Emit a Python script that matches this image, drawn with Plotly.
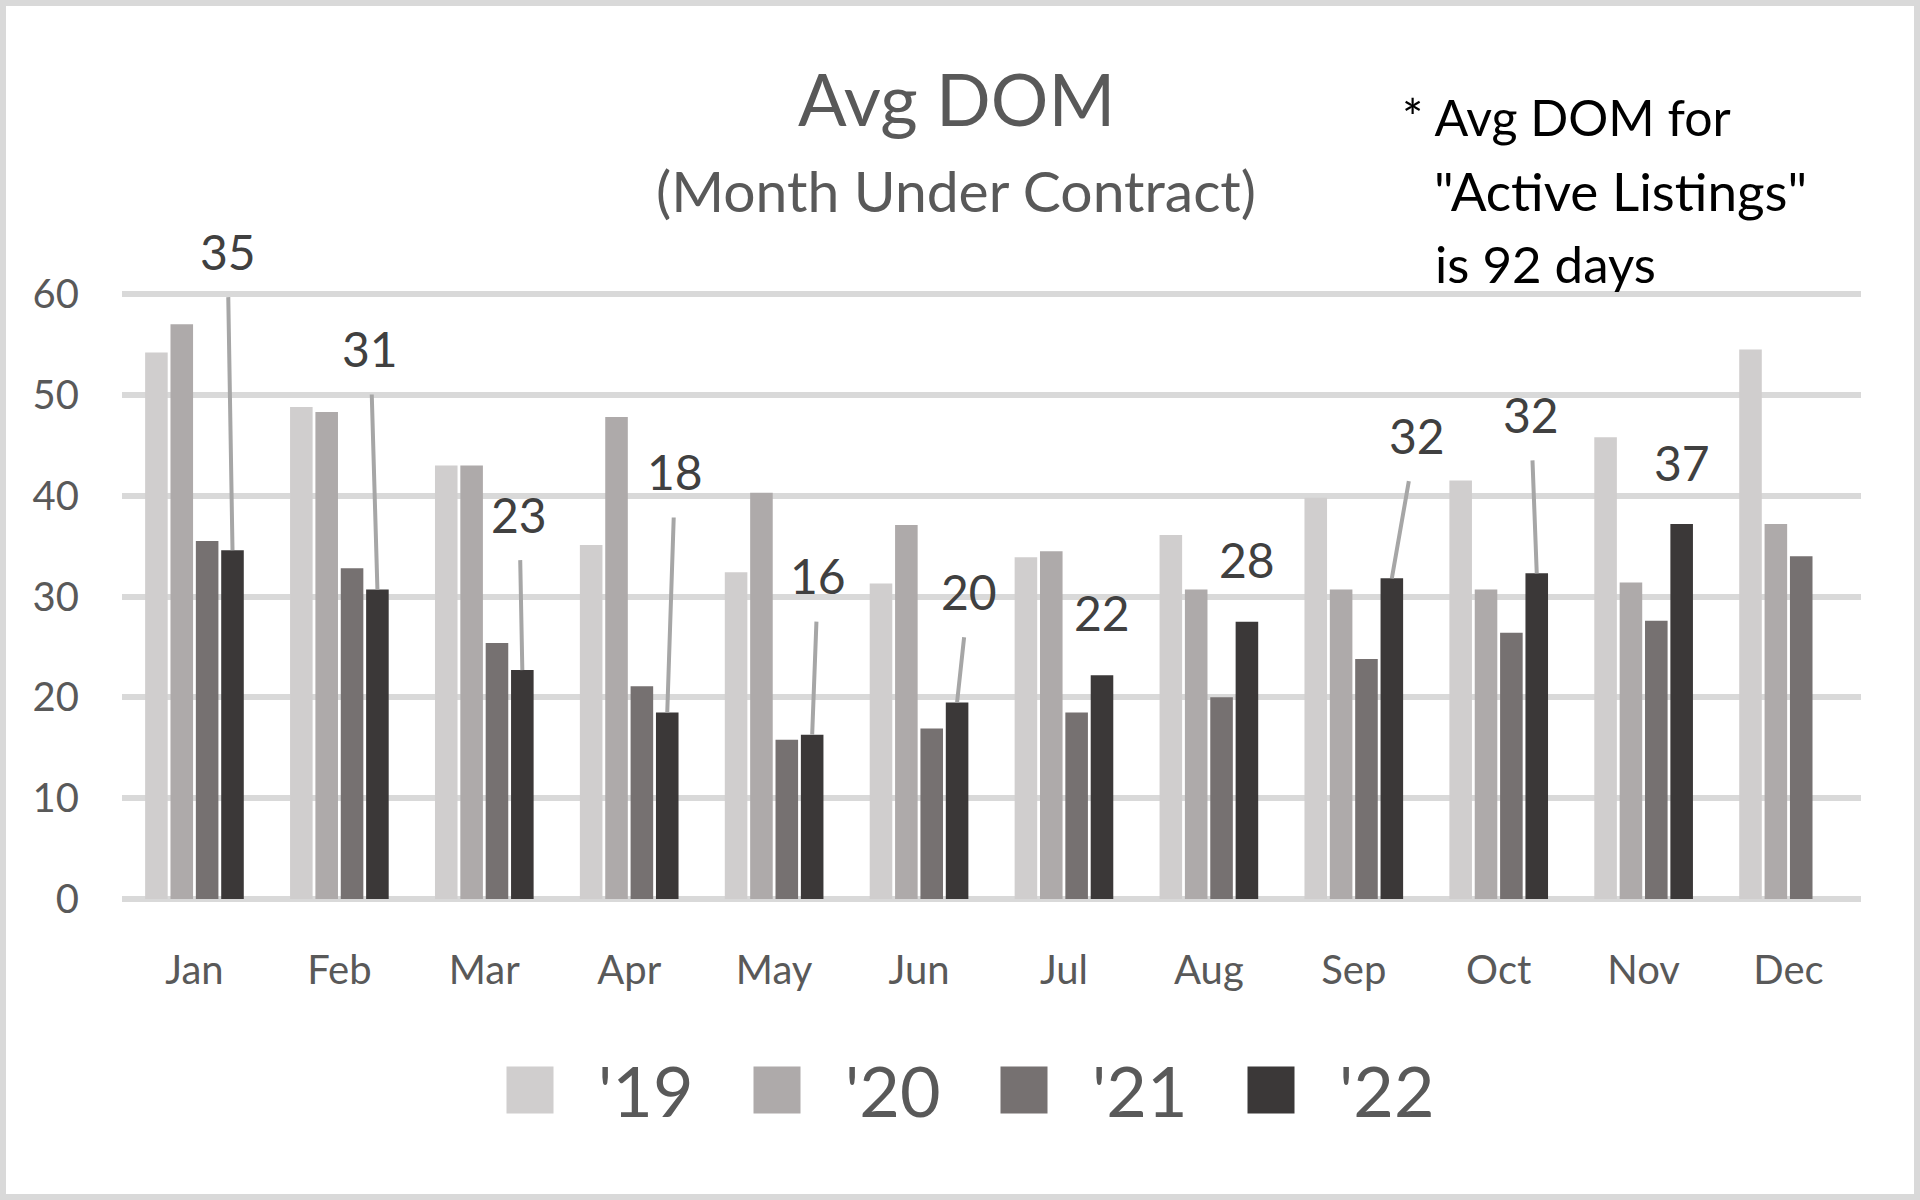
import plotly.graph_objects as go

MONTHS = ["Jan", "Feb", "Mar", "Apr", "May", "Jun", "Jul", "Aug", "Sep", "Oct", "Nov", "Dec"]
SERIES_NAMES = ["'19", "'20", "'21", "'22"]
V19 = [54.2, 48.8, 43.0, 35.1, 32.4, 31.3, 33.9, 36.1, 39.8, 41.5, 45.8, 54.5]
V20 = [57.0, 48.3, 43.0, 47.8, 40.3, 37.1, 34.5, 30.7, 30.7, 30.7, 31.4, 37.2]
V21 = [35.5, 32.8, 25.4, 21.1, 15.8, 16.9, 18.5, 20.0, 23.8, 26.4, 27.6, 34.0]
V22 = [34.6, 30.7, 22.7, 18.5, 16.3, 19.5, 22.2, 27.5, 31.8, 32.3, 37.2, None]
Y_TICKS = [0, 10, 20, 30, 40, 50, 60]

TITLE = "Avg DOM"
SUBTITLE = "(Month Under Contract)"
NOTE_LINES = ["* Avg DOM for", "\"Active Listings\"", "is 92 days"]

# styling / placement (not data)
COLORS = ["#D0CECE", "#AEAAAA", "#767171", "#3B3838"]
FONT = "Lato"
W, H = 1920, 1200
Y_MAX = 60.5                              # a bit above 60 so the 60 gridline is drawn
L, R, B = 122, 1861, 899                  # plot area in px
T = round(B - (B - 294) * Y_MAX / 60)     # so that 60 sits at y=294 px
BARGAP, GROUPGAP = 0.30, 0.11
# (dx, dy, leader) pixel offsets of the '22 value labels from the bar top
LABEL_OFFSETS = [(-5, -299, True), (-7, -241, True), (-3, -156, True), (8, -241, True),
                 (6, -159, True), (12, -111, True), (0, -63, False), (0, -62, False),
                 (25, -143, True), (-6, -159, True), (0, -61, False), (0, -60, False)]
NOTE_POS = [(1400, 117), (1432, 190), (1433, 263)]
NOTE_SIZES = [50, 53, 51]
LEGEND_X0, LEGEND_STEP, LEGEND_Y, SW = 530, 247, 1090, 47


def pxx(x):
    return (x - L) / (R - L)


def pxy(y):
    return (B - y) / (B - T)


x_idx = list(range(len(MONTHS)))
fig = go.Figure()
for name, vals, col in zip(SERIES_NAMES, [V19, V20, V21, V22], COLORS):
    fig.add_trace(go.Bar(x=x_idx, y=vals, name=name, marker=dict(color=col, line=dict(width=0)),
                         showlegend=False, hoverinfo="skip"))

annotations = []
# value labels for '22
offset = 3 * (1 - BARGAP) / 8
for i, v in enumerate(V22):
    if v is None:
        continue
    dx, dy, leader = LABEL_OFFSETS[i]
    txt = f"{v:.0f}"
    if leader:
        annotations.append(dict(x=i + offset, y=v, xref="x", yref="y", text=txt,
                                showarrow=True, arrowhead=0, arrowwidth=4, arrowcolor="#A6A6A6",
                                ax=dx, ay=dy, startstandoff=16, standoff=0,
                                font=dict(family=FONT, size=48, color="#404040")))
    else:
        annotations.append(dict(x=i + offset, y=v, xref="x", yref="y", text=txt,
                                showarrow=False, xshift=dx, yshift=-dy,
                                font=dict(family=FONT, size=48, color="#404040")))

annotations.append(dict(x=pxx(956), y=pxy(98), xref="paper", yref="paper", text=TITLE,
                        showarrow=False, xanchor="center", yanchor="middle",
                        font=dict(family=FONT, size=72, color="#595959")))
annotations.append(dict(x=pxx(956), y=pxy(190), xref="paper", yref="paper", text=SUBTITLE,
                        showarrow=False, xanchor="center", yanchor="middle",
                        font=dict(family=FONT, size=57, color="#595959")))
for line, (nx, ny), fs in zip(NOTE_LINES, NOTE_POS, NOTE_SIZES):
    annotations.append(dict(x=pxx(nx), y=pxy(ny), xref="paper", yref="paper", text=line,
                            showarrow=False, xanchor="left", yanchor="middle",
                            font=dict(family=FONT, size=fs, color="#000000")))

shapes = []
# custom legend
for k, (name, col) in enumerate(zip(SERIES_NAMES, COLORS)):
    cx = LEGEND_X0 + k * LEGEND_STEP
    shapes.append(dict(type="rect", xref="paper", yref="paper",
                       x0=pxx(cx - SW / 2), x1=pxx(cx + SW / 2),
                       y0=pxy(LEGEND_Y + SW / 2), y1=pxy(LEGEND_Y - SW / 2),
                       fillcolor=col, line=dict(width=0)))
    annotations.append(dict(x=pxx(cx + 66), y=pxy(LEGEND_Y), xref="paper", yref="paper",
                            text=name, showarrow=False, xanchor="left", yanchor="middle",
                            font=dict(family=FONT, size=70, color="#595959")))
# outer border of the chart
shapes.append(dict(type="rect", xref="paper", yref="paper",
                   x0=pxx(3), x1=pxx(W - 3), y0=pxy(H - 3), y1=pxy(3),
                   line=dict(color="#D9D9D9", width=6), fillcolor="rgba(0,0,0,0)", layer="below"))

fig.update_layout(
    width=W, height=H,
    margin=dict(l=L, r=W - R, t=T, b=H - B, pad=0),
    paper_bgcolor="white", plot_bgcolor="white",
    barmode="group", bargap=BARGAP, bargroupgap=GROUPGAP,
    showlegend=False,
    annotations=annotations, shapes=shapes,
    font=dict(family=FONT, color="#595959"),
)
fig.update_xaxes(range=[-0.5, len(MONTHS) - 0.5], tickvals=x_idx, ticktext=MONTHS,
                 showgrid=False, zeroline=False, showline=False, ticks="",
                 ticklabelstandoff=44, tickfont=dict(family=FONT, size=40, color="#595959"))
fig.update_yaxes(range=[0, Y_MAX], tickvals=Y_TICKS, showgrid=True, gridcolor="#D9D9D9", gridwidth=6,
                 zeroline=True, zerolinecolor="#D9D9D9", zerolinewidth=6, showline=False, ticks="",
                 ticklabelstandoff=42, tickfont=dict(family=FONT, size=40, color="#595959"))

fig.write_html("out.html", config={"displayModeBar": False},
               post_script="document.body.style.margin='0';")
